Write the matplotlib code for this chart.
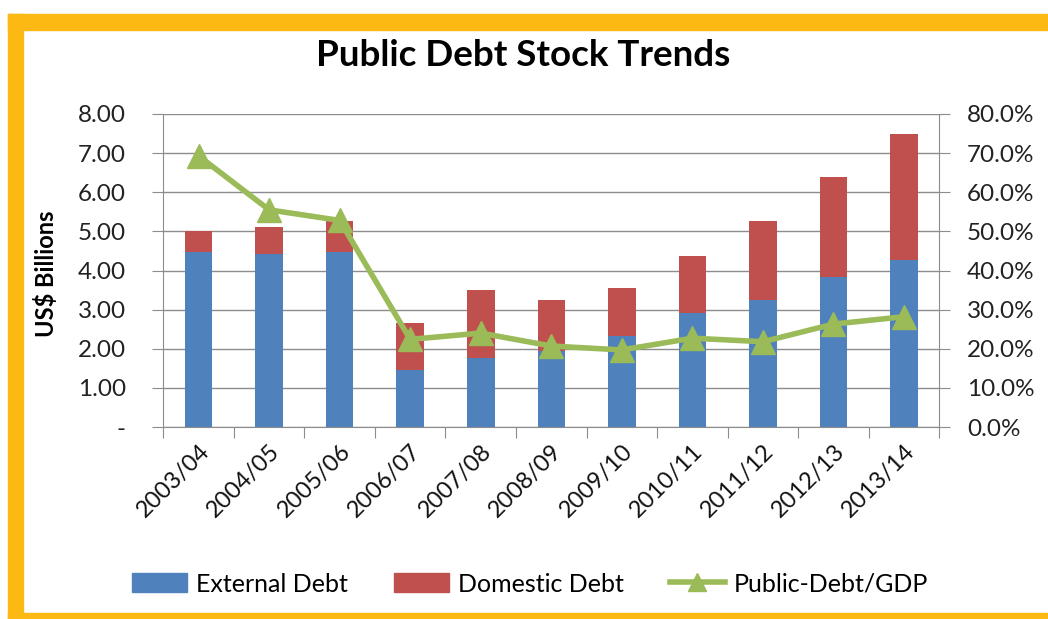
import matplotlib
matplotlib.use("Agg")
import matplotlib.pyplot as plt
from matplotlib.patches import Rectangle
from matplotlib.lines import Line2D
from matplotlib.patches import Patch
import numpy as np

categories = ["2003/04", "2004/05", "2005/06", "2006/07", "2007/08", "2008/09",
              "2009/10", "2010/11", "2011/12", "2012/13", "2013/14"]
external_debt = [4.47, 4.42, 4.47, 1.46, 1.76, 1.95, 2.33, 2.91, 3.25, 3.83, 4.27]
total_debt = [5.00, 5.12, 5.27, 2.65, 3.50, 3.25, 3.56, 4.38, 5.27, 6.39, 7.49]
domestic_debt = [t - e for t, e in zip(total_debt, external_debt)]
debt_to_gdp = [69.3, 55.5, 52.8, 22.4, 24.0, 20.7, 19.7, 22.7, 21.8, 26.3, 28.2]

left_ticks = [0, 1, 2, 3, 4, 5, 6, 7, 8]
left_labels = ["-", "1.00", "2.00", "3.00", "4.00", "5.00", "6.00", "7.00", "8.00"]
right_ticks = [0, 10, 20, 30, 40, 50, 60, 70, 80]

BLUE = "#4F81BD"
RED = "#C0504D"
GREEN = "#9BBB59"
ORANGE = "#FDB913"
GRID = "#8c8c8c"
FONT = "Lato"

W, H = 1048, 619
fig = plt.figure(figsize=(W / 100, H / 100), dpi=100)
fig.patch.set_facecolor("white")

# orange frame (top, left, thin bottom)
fig.patches.append(Rectangle((8 / W, 1 - 30 / H), 1, 16 / H, transform=fig.transFigure,
                             color=ORANGE, zorder=0))
fig.patches.append(Rectangle((8 / W, 0), 15 / W, 1 - 14 / H, transform=fig.transFigure,
                             color=ORANGE, zorder=0))
fig.patches.append(Rectangle((8 / W, 0), 1, 6 / H, transform=fig.transFigure,
                             color=ORANGE, zorder=0))

x0, x1, y0, y1 = 163.3, 939.3, 114, 427
ax = fig.add_axes([x0 / W, 1 - y1 / H, (x1 - x0) / W, (y1 - y0) / H])
x = np.arange(len(categories))
ax.bar(x, external_debt, width=0.39, color=BLUE, zorder=2)
ax.bar(x, domestic_debt, width=0.39, bottom=external_debt, color=RED, zorder=2)
ax.set_xlim(-0.5, len(categories) - 0.5)
ax.set_ylim(0, 8)
ax.set_yticks(left_ticks)
ax.set_yticklabels(left_labels, fontfamily=FONT, fontsize=17.5, color="#222222")
ax.yaxis.grid(True, color=GRID, linewidth=1, zorder=0)
ax.set_axisbelow(True)
ax.set_xticks(np.arange(len(categories) + 1) - 0.5, minor=False)
ax.set_xticklabels([""] * (len(categories) + 1))
ax.set_xticks(x, minor=True)
ax.set_xticklabels(categories, minor=True, rotation=45, ha="right", rotation_mode="anchor",
                   fontfamily=FONT, fontsize=17, color="#111111")
ax.tick_params(axis="x", which="minor", length=0, pad=10)
ax.tick_params(axis="x", which="major", length=8, direction="out", color=GRID)
ax.tick_params(axis="y", length=8, direction="out", color=GRID, pad=19)
for s in ["top", "right"]:
    ax.spines[s].set_visible(False)
ax.spines["left"].set_color(GRID)
ax.spines["bottom"].set_color(GRID)
ax.set_ylabel("US$ Billions", fontfamily=FONT, fontsize=17, fontweight="bold")
ax.yaxis.set_label_coords((58 - x0) / (x1 - x0), 0.49)

ax2 = ax.twinx()
ax2.plot(x, debt_to_gdp, color=GREEN, linewidth=4, marker="^", markersize=17,
         markerfacecolor=GREEN, markeredgecolor=GREEN, zorder=3)
ax2.set_ylim(0, 80)
ax2.set_yticks(right_ticks)
ax2.set_yticklabels([f"{v:.1f}%" for v in right_ticks], fontfamily=FONT, fontsize=17.5,
                    color="#222222")
ax2.tick_params(axis="y", length=8, direction="out", color=GRID, pad=12)
for s in ["top", "left", "bottom"]:
    ax2.spines[s].set_visible(False)
ax2.spines["right"].set_color(GRID)

fig.text(523 / W, 1 - 55 / H, "Public Debt Stock Trends", ha="center", va="center",
         fontfamily=FONT, fontsize=26.5, fontweight="bold")

handles = [Patch(color=BLUE), Patch(color=RED),
           Line2D([0], [0], color=GREEN, linewidth=4, marker="^", markersize=13)]
fig.legend(handles, ["External Debt", "Domestic Debt", "Public-Debt/GDP"],
           loc="center", bbox_to_anchor=(530 / W, 1 - 584 / H), ncol=3, frameon=False,
           prop={"family": FONT, "size": 18}, handlelength=2.2, handleheight=0.8,
           columnspacing=1.85, handletextpad=0.35)

fig.savefig("out.png", dpi=100, facecolor="white")
